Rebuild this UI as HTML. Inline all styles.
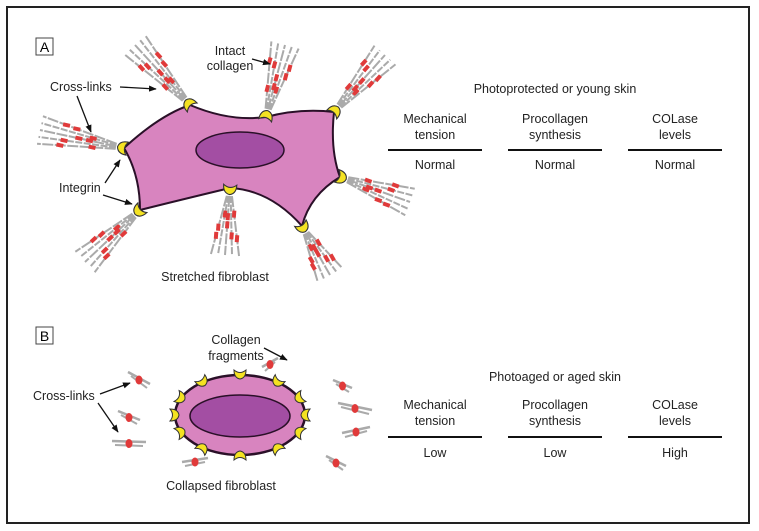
<!DOCTYPE html>
<html><head><meta charset="utf-8"><style>
html,body{margin:0;padding:0;background:#fff;}
svg{display:block;font-family:"Liberation Sans Narrow","Liberation Sans",sans-serif;}
</style></head><body>
<svg id="s" width="759" height="531" viewBox="0 0 759 531" xmlns="http://www.w3.org/2000/svg">
<defs><marker id="ar" viewBox="0 0 10 10" refX="9" refY="5" markerWidth="6" markerHeight="6" orient="auto"><path d="M0,1 L10,5 L0,9 z" fill="#111"/></marker></defs>
<rect x="7" y="7" width="742" height="516" fill="#fff" stroke="#222" stroke-width="2"/>
<g id="fib"></g>
<path d="M124,148 Q160,115 190,105 Q230,122 266,117 Q300,108 334,112 Q330,150 340,177 Q310,195 302,226 Q270,190 230,188 Q180,200 140,210 Q140,175 124,148 Z" fill="#d884bf" stroke="#2a1028" stroke-width="2"/>
<ellipse cx="240" cy="150" rx="44" ry="18" fill="#a34ea3" stroke="#2a1028" stroke-width="1.5"/>
<ellipse cx="240" cy="415" rx="65" ry="40" fill="#d884bf" stroke="#2a1028" stroke-width="2.5"/>
<ellipse cx="240" cy="416" rx="50" ry="21" fill="#a34ea3" stroke="#2a1028" stroke-width="1.5"/>
<g id="int"></g>
<rect x="36" y="38" width="17" height="17" fill="#fff" stroke="#444"/><text x="44.5" y="52" font-size="14" text-anchor="middle">A</text>
<rect x="36" y="327" width="17" height="17" fill="#fff" stroke="#444"/><text x="44.5" y="341" font-size="14" text-anchor="middle">B</text>
<g font-size="12.5" fill="#222">
<text x="230" y="55" text-anchor="middle">Intact</text><text x="230" y="70" text-anchor="middle">collagen</text>
<text x="50" y="91">Cross-links</text>
<text x="59" y="192">Integrin</text>
<text x="215" y="281" text-anchor="middle">Stretched fibroblast</text>
<text x="236" y="344" text-anchor="middle">Collagen</text><text x="236" y="360" text-anchor="middle">fragments</text>
<text x="33" y="400">Cross-links</text>
<text x="221" y="490" text-anchor="middle">Collapsed fibroblast</text>
<text x="555" y="93" text-anchor="middle">Photoprotected or young skin</text>
<text x="435" y="123" text-anchor="middle">Mechanical</text><text x="435" y="139" text-anchor="middle">tension</text>
<text x="555" y="123" text-anchor="middle">Procollagen</text><text x="555" y="139" text-anchor="middle">synthesis</text>
<text x="675" y="123" text-anchor="middle">COLase</text><text x="675" y="139" text-anchor="middle">levels</text>
<text x="435" y="169" text-anchor="middle">Normal</text><text x="555" y="169" text-anchor="middle">Normal</text><text x="675" y="169" text-anchor="middle">Normal</text>
<text x="555" y="381" text-anchor="middle">Photoaged or aged skin</text>
<text x="435" y="409" text-anchor="middle">Mechanical</text><text x="435" y="425" text-anchor="middle">tension</text>
<text x="555" y="409" text-anchor="middle">Procollagen</text><text x="555" y="425" text-anchor="middle">synthesis</text>
<text x="675" y="409" text-anchor="middle">COLase</text><text x="675" y="425" text-anchor="middle">levels</text>
<text x="435" y="457" text-anchor="middle">Low</text><text x="555" y="457" text-anchor="middle">Low</text><text x="675" y="457" text-anchor="middle">High</text>
</g>
<g stroke="#111" stroke-width="2">
<line x1="388" y1="150" x2="482" y2="150"/><line x1="508" y1="150" x2="602" y2="150"/><line x1="628" y1="150" x2="722" y2="150"/>
<line x1="388" y1="437" x2="482" y2="437"/><line x1="508" y1="437" x2="602" y2="437"/><line x1="628" y1="437" x2="722" y2="437"/>
</g>
<g stroke="#111" stroke-width="1.3" marker-end="url(#ar)">
<line x1="252" y1="59" x2="270" y2="64"/>
<line x1="120" y1="87" x2="156" y2="89"/>
<line x1="77" y1="96" x2="91" y2="132"/>
<line x1="105" y1="183" x2="120" y2="160"/>
<line x1="103" y1="195" x2="132" y2="204"/>
<line x1="264" y1="348" x2="287" y2="360"/>
<line x1="100" y1="394" x2="130" y2="383"/>
<line x1="98" y1="403" x2="118" y2="432"/>
</g>
</svg>
<script>
var NS="http://www.w3.org/2000/svg",fib=document.getElementById("fib"),ig=document.getElementById("int");
function el(t,a,p){var e=document.createElementNS(NS,t);for(var k in a)e.setAttribute(k,a[k]);p.appendChild(e);return e;}
function bundle(x0,y0,x1,y1,n,spread){var dx=x1-x0,dy=y1-y0,L=Math.hypot(dx,dy),ux=dx/L,uy=dy/L,px=-uy,py=ux;
for(var i=0;i<n;i++){var o=(i-(n-1)/2)*spread;var ex=x1+px*o*2.2,ey=y1+py*o*2.2,sx=x0+ux*8+px*o*0.4,sy=y0+uy*8+py*o*0.4;
el("line",{x1:sx,y1:sy,x2:ex,y2:ey,stroke:"#aaa","stroke-width":2,"stroke-dasharray":i%2?"7 1.5":"11 1.5"},fib);
var nm=(i%2)?1:2;for(var j=0;j<nm;j++){var t=0.3+((i*37+j*41)%55)/100;var cx=sx+(ex-sx)*t,cy=sy+(ey-sy)*t;
el("line",{x1:cx-ux*3.5,y1:cy-uy*3.5,x2:cx+ux*3.5,y2:cy+uy*3.5,stroke:"#e03a3a","stroke-width":4},fib);}}}
function integ(x,y,r,s){s=s||1;el("path",{d:"M-6,-3 Q0,2 6,-3 Q6,5 0,6 Q-6,5 -6,-3Z",fill:"#f4e222",stroke:"#333","stroke-width":1,transform:"translate("+x+","+y+") rotate("+r+") scale("+s+")"},ig);}
var V=[[190,105,135,45],[266,117,285,45],[334,112,385,55],[340,177,410,202],[302,226,330,275],[230,188,225,255],[140,210,85,262],[124,148,40,130]];
V.forEach(function(v){bundle(v[0],v[1],v[2],v[3],5,3.2);var a=Math.atan2(v[3]-v[1],v[2]-v[0])*180/Math.PI;integ(v[0],v[1],a-90,1.1);});
var F=[[128,372,150,384],[118,411,140,420],[112,441,146,442],[262,367,278,358],[333,380,352,388],[338,403,372,410],[342,433,370,427],[326,456,346,466],[182,462,208,458]];
F.forEach(function(f){el("line",{x1:f[0],y1:f[1],x2:f[2],y2:f[3],stroke:"#aaa","stroke-width":2.5},fib);el("line",{x1:f[0]+3,y1:f[1]+4,x2:f[2]-3,y2:f[3]+4,stroke:"#aaa","stroke-width":2},fib);
var cx=(f[0]+f[2])/2,cy=(f[1]+f[3])/2+2;el("ellipse",{cx:cx,cy:cy,rx:3.5,ry:4.5,fill:"#e03a3a"},fib);});
var ang=[-90,-55,-25,0,25,55,90,125,155,180,205,235];
ang.forEach(function(d){var t=d*Math.PI/180;integ(240+67*Math.cos(t),415+42*Math.sin(t),d+90,1.0);});
</script>
</body></html>
